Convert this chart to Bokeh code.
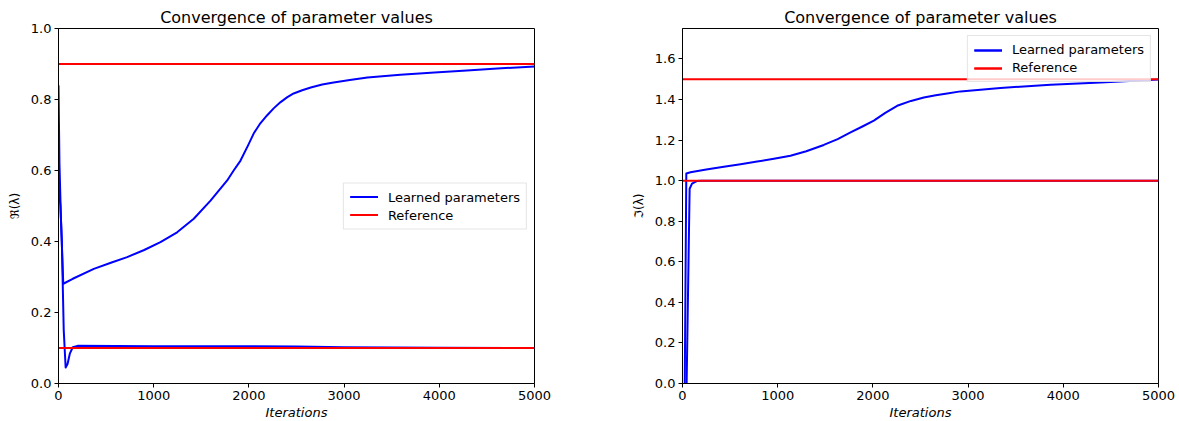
from bokeh.plotting import figure
from bokeh.layouts import row
from bokeh.models import FixedTicker, PrintfTickFormatter, Range1d, Legend
from bokeh.embed import file_html
from bokeh.resources import INLINE

# ---------------- data ----------------
title_text = "Convergence of parameter values"
x_label = "Iterations"
re_label = "ℜ(λ)"
im_label = "ℑ(λ)"

# Real part: two learned parameters
re_a_iter = [0, 10, 25, 50, 150, 371, 550, 721, 900, 1071, 1246, 1421, 1597, 1772, 1840, 1912, 1990, 2050, 2120, 2190, 2260, 2330, 2400, 2470, 2560, 2650, 2770, 2890, 3060, 3245, 3590, 3950, 4290, 4650, 5000]
re_a_val = [0.84, 0.62, 0.47, 0.281, 0.295, 0.323, 0.340, 0.356, 0.376, 0.398, 0.426, 0.464, 0.515, 0.572, 0.600, 0.628, 0.670, 0.704, 0.733, 0.755, 0.775, 0.792, 0.806, 0.817, 0.826, 0.834, 0.842, 0.848, 0.855, 0.862, 0.870, 0.876, 0.882, 0.888, 0.893]
re_b_iter = [0, 20, 35, 55, 75, 95, 120, 150, 200, 1000, 2000, 2500, 3000, 4000, 5000]
re_b_val = [0.56, 0.50, 0.40, 0.15, 0.045, 0.055, 0.085, 0.102, 0.106, 0.105, 0.105, 0.104, 0.102, 0.101, 0.100]
re_ref = [0.9, 0.1]

# Imaginary part: two learned parameters
im_a_iter = [0, 40, 84, 250, 434, 610, 784, 960, 1134, 1300, 1484, 1630, 1765, 1890, 2010, 2130, 2255, 2400, 2535, 2660, 2780, 2920, 3340, 3866, 4391, 5000]
im_a_val = [-1.5, 1.035, 1.041, 1.055, 1.069, 1.081, 1.094, 1.108, 1.123, 1.145, 1.176, 1.205, 1.238, 1.267, 1.296, 1.334, 1.369, 1.393, 1.410, 1.421, 1.430, 1.440, 1.457, 1.473, 1.484, 1.498]
im_b_iter = [0, 40, 75, 100, 150, 200, 5000]
im_b_val = [-2.0, -0.1, 0.96, 0.985, 0.998, 1.0, 1.0]
im_ref = [1.5, 1.0]

x_min, x_max = 0, 5000
x_ticks = [0, 1000, 2000, 3000, 4000, 5000]
re_ticks = [0.0, 0.2, 0.4, 0.6, 0.8, 1.0]
im_ticks = [0.0, 0.2, 0.4, 0.6, 0.8, 1.0, 1.2, 1.4, 1.6]

FONT = "DejaVu Sans"
BLUE = "#0000ff"
RED = "#ff0000"


def make_panel(curves, refs, y_max, y_ticks, y_label, legend_loc, left, right):
    p = figure(frame_width=476, frame_height=355, output_backend="svg",
               toolbar_location=None, x_range=Range1d(x_min, x_max),
               y_range=Range1d(0, y_max),
               min_border_left=left, min_border_right=right,
               min_border_top=28, min_border_bottom=38)
    p.title.text = title_text
    p.title.align = "center"
    p.title.text_font = FONT
    p.title.text_font_size = "16px"
    p.title.text_font_style = "normal"
    p.title.text_color = "black"
    p.title.standoff = 4

    items_blue = []
    for xs, ys in curves:
        r = p.line(xs, ys, line_color=BLUE, line_width=2, line_join="round")
        items_blue.append(r)
    items_red = []
    for v in refs:
        r = p.line([x_min, x_max], [v, v], line_color=RED, line_width=2)
        items_red.append(r)

    legend = Legend(items=[("Learned parameters", items_blue), ("Reference", items_red)],
                    location=legend_loc)
    legend.label_text_font = FONT
    legend.label_text_font_size = "13px"
    legend.label_text_color = "black"
    legend.border_line_color = "#cccccc"
    legend.border_line_width = 1
    legend.background_fill_alpha = 0.8
    legend.glyph_width = 28
    legend.glyph_height = 14
    legend.spacing = 3
    legend.padding = 6
    legend.margin = 7
    legend.label_standoff = 10
    p.add_layout(legend)

    p.xgrid.visible = False
    p.ygrid.visible = False
    p.outline_line_color = "black"
    p.outline_line_width = 1
    p.outline_line_alpha = 1

    for ax in (p.xaxis[0], p.yaxis[0]):
        ax.major_tick_out = 4
        ax.major_tick_in = 0
        ax.minor_tick_out = 0
        ax.minor_tick_in = 0
        ax.major_label_text_font = FONT
        ax.major_label_text_font_size = "13px"
        ax.major_label_text_color = "black"
        ax.axis_line_color = "black"
        ax.major_tick_line_color = "black"
        ax.axis_label_text_font = FONT
        ax.axis_label_text_color = "black"

    p.xaxis.ticker = FixedTicker(ticks=x_ticks)
    p.yaxis.ticker = FixedTicker(ticks=y_ticks)
    p.yaxis.formatter = PrintfTickFormatter(format="%.1f")
    p.xaxis.axis_label = x_label
    p.xaxis.axis_label_text_font_style = "italic"
    p.xaxis.axis_label_text_font_size = "13px"
    p.xaxis.axis_label_standoff = 2
    p.xaxis.major_label_standoff = 3
    p.yaxis.axis_label = y_label
    p.yaxis.axis_label_text_font_style = "normal"
    p.yaxis.axis_label_text_font_size = "12px"
    p.yaxis.axis_label_standoff = 6
    p.yaxis.major_label_standoff = 3
    p.background_fill_color = "white"
    p.border_fill_color = "white"
    return p


p1 = make_panel([(re_a_iter, re_a_val), (re_b_iter, re_b_val)], re_ref, 1.0, re_ticks,
                re_label, "center_right", 58, 56)
p2 = make_panel([(im_a_iter, im_a_val), (im_b_iter, im_b_val)], im_ref, 1.75, im_ticks,
                im_label, "top_right", 92, 21)

layout = row(p1, p2)
open("out.html", "w").write(file_html(layout, INLINE))
